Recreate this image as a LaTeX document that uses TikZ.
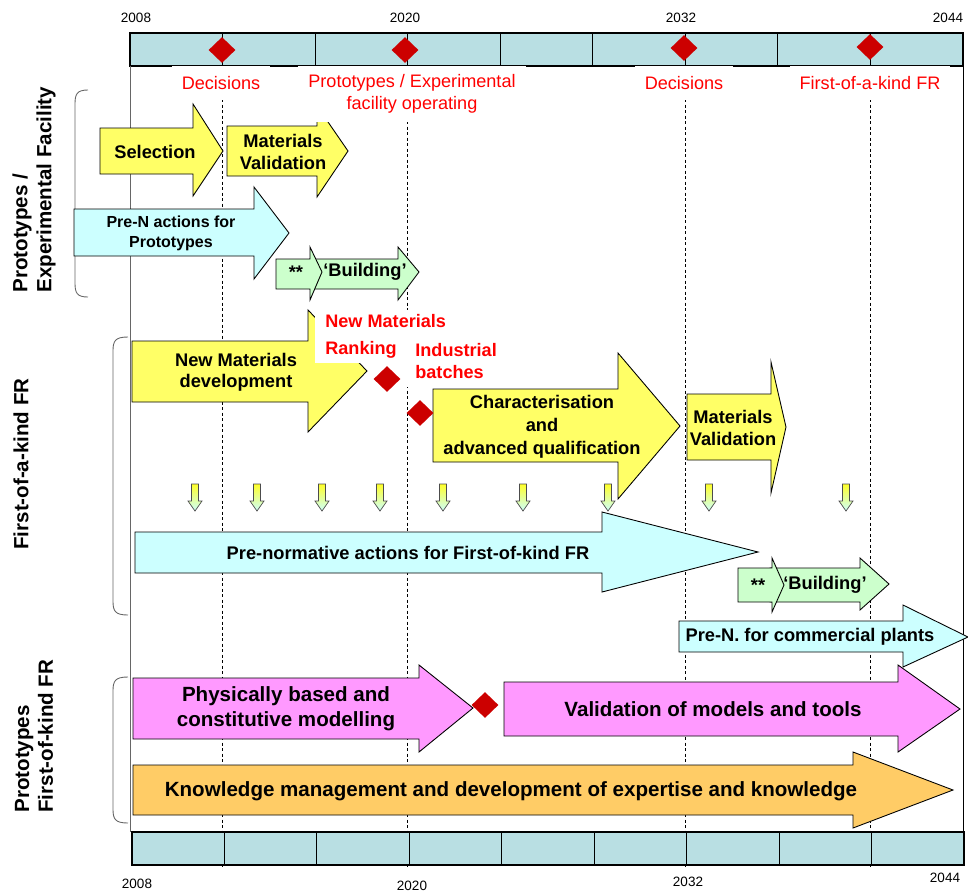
\documentclass[tikz,border=0pt]{standalone}
\usepackage{fontspec}
\setmainfont{Liberation Sans}
\usetikzlibrary{shapes.geometric}

\definecolor{barTeal}{RGB}{185,223,227}
\definecolor{arrYellow}{RGB}{255,255,102}
\definecolor{arrYellowHi}{RGB}{255,255,40}
\definecolor{arrCyan}{RGB}{204,255,255}
\definecolor{arrGreen}{RGB}{204,255,204}
\definecolor{arrPink}{RGB}{255,153,255}
\definecolor{arrOrange}{RGB}{255,204,102}
\definecolor{decRed}{RGB}{204,0,0}
\definecolor{txtRed}{RGB}{255,0,0}

\begin{document}
\begin{tikzpicture}[x=0.2mm,y=-0.2mm]
  \useasboundingbox (0,0) rectangle (968,891);
  \tikzstyle{every node}=[inner sep=0]
  \tikzstyle{blk}=[draw=black,line width=0.5pt]
  \tikzstyle{yel}=[blk,fill=arrYellow]
  \tikzstyle{cya}=[blk,fill=arrCyan]
  \tikzstyle{grn}=[blk,fill=arrGreen]
  \tikzstyle{pnk}=[blk,fill=arrPink]
  \tikzstyle{org}=[blk,fill=arrOrange]
  \tikzstyle{dec}=[diamond,fill=decRed,minimum width=5.4mm,minimum height=5.2mm]
  \tikzstyle{yr}=[font=\fontsize{7.7}{9}\selectfont]
  \tikzstyle{txt}=[font=\bfseries\fontsize{10.4}{13}\selectfont,align=center]
  \tikzstyle{txtsm}=[font=\bfseries\fontsize{9.1}{11.3}\selectfont,align=center]
  \tikzstyle{txtbig}=[font=\bfseries\fontsize{11.7}{14.2}\selectfont,align=center]
  \tikzstyle{milestone}=[font=\fontsize{10.3}{12.5}\selectfont,text=txtRed,fill=white,align=center,inner xsep=2mm]
  \tikzstyle{milebold}=[font=\bfseries\fontsize{10.3}{15.3}\selectfont,text=txtRed,fill=white,align=left,inner xsep=2mm,anchor=west]
  \tikzstyle{side}=[font=\bfseries\fontsize{11.7}{13.6}\selectfont,rotate=90,align=left,anchor=west]
  \tikzstyle{smallarr}=[draw=black!70,line width=0.4pt,top color=arrYellowHi,bottom color=arrCyan]

%% block arrow: style, x left, x head, x tip, body top, body bottom, head top, head bottom, tip y
  \newcommand{\blkarrow}[9]{%
    \draw[#1] (#2,#5) -- (#3,#5) -- (#3,#7) -- (#4,#9) -- (#3,#8) -- (#3,#6) -- (#2,#6) -- cycle;}
%% group brace: x left, x right, y top, y bottom
  \newcommand{\grpbrace}[4]{%
    \draw[black!60,line width=0.5pt] (#2,#3) .. controls (#1+2,#3) and (#1,#3+4) .. (#1,#3+14)
      -- (#1,#4-14) .. controls (#1,#4-4) and (#1+2,#4) .. (#2,#4);}

%% time bars
  \draw[line width=0.6pt,fill=barTeal] (130,33) rectangle (963,66);
  \foreach \k in {1,...,8}
    \draw[line width=0.6pt] (130+92.56*\k,33) -- (130+92.56*\k,66);
  \foreach \k in {1,3,6,8}
    \draw[line width=0.4pt,dash pattern=on 0.6mm off 0.5mm] (130+92.56*\k,66) -- (130+92.56*\k,868);
  \draw[black!60,line width=0.5pt] (130,66) -- (130,832);
  \draw[line width=0.5pt] (963,66) -- (963,832);
  \draw[line width=0.6pt,fill=barTeal] (132,832) rectangle (964,865);
  \foreach \k in {1,...,8}
    \draw[line width=0.6pt] (132+92.44*\k,832) -- (132+92.44*\k,865);

  \foreach \x/\yr in {136/2008,405/2020,681/2032,948/2044}
    \node[yr] (top-\yr) at (\x,18) {\yr};
  \foreach \x/\y/\yr in {137/884/2008,412/886/2020,688/882/2032,945/878/2044}
    \node[yr] (bot-\yr) at (\x,\y) {\yr};
  \foreach \x/\y in {222/50,405/50,684/48,870/47}
    \node[dec] (mile-\x) at (\x,\y) {};

%% group braces
  \grpbrace{75}{88}{90}{297}
  \grpbrace{113}{128}{337}{615}
  \grpbrace{113}{128}{677}{823}

%% prototypes / experimental facility
  \blkarrow{yel}{100}{193}{223}{128}{174}{104}{196}{151}
  \blkarrow{yel}{227}{317}{348}{126}{176}{106}{197}{151}
  \blkarrow{cya}{74}{254}{289}{209}{256}{187}{279}{233}
  \blkarrow{grn}{310}{398}{419}{259}{289}{247}{300}{272}
  \blkarrow{grn}{276}{310}{322}{259}{289}{247}{300}{272}

%% first-of-a-kind
  \blkarrow{yel}{132}{308}{367}{341}{402}{310}{432}{371}
  \blkarrow{yel}{433}{618}{680}{389}{462}{353}{499}{426}
  \blkarrow{yel}{687}{771}{786}{394}{460}{362}{493}{427}
  \foreach \x in {195,257,322,380,443,523,608,709,846}
    \draw[smallarr] (\x-3.5,484) -- (\x+3.5,484) -- (\x+3.5,501) -- (\x+7,501)
      -- (\x,511) -- (\x-7,501) -- (\x-3.5,501) -- cycle;
  \blkarrow{cya}{135}{602}{758}{532}{573}{512}{592}{552}
  \blkarrow{grn}{770}{860}{889}{568}{602}{558}{610}{584}
  \blkarrow{grn}{738}{772}{784}{568}{602}{558}{612}{585}
  \blkarrow{cya}{679}{903}{968}{621}{652}{605}{667}{637}

%% modelling and knowledge
  \blkarrow{pnk}{133}{419}{473}{678}{739}{665}{752}{708}
  \blkarrow{pnk}{504}{898}{960}{682}{736}{665}{752}{709}
  \blkarrow{org}{133}{853}{953}{765}{815}{752}{828}{790}

%% milestones
  \node[milestone,minimum height=6.8mm] (dec-a) at (221,83) {Decisions};
  \node[milestone,minimum height=11.2mm] (proto-op) at (412,94) {Prototypes / Experimental\\facility operating};
  \node[milestone,minimum height=6.8mm] (dec-b) at (684,83) {Decisions};
  \node[milestone,minimum height=6.8mm] (fok) at (870,83) {First-of-a-kind FR};
  \node[milebold,minimum height=10.6mm] (rank) at (315,336.5) {New Materials\\Ranking};
  \node[milebold,minimum height=10.4mm,font=\bfseries\fontsize{10.3}{12.5}\selectfont] (batch) at (405,361) {Industrial\\batches};
  \node[dec] (mile-rank) at (387,379) {};
  \node[dec] (mile-batch) at (420,413) {};
  \node[dec] (mile-model) at (485,705) {};

%% texts
  \node[txt] (sel) at (155,152) {Selection};
  \node[txt] (matval-a) at (283,152) {Materials\\Validation};
  \node[txtsm] (pren-proto) at (171,233) {Pre-N actions for\\Prototypes};
  \node[txt] (star-a) at (296,272) {**};
  \node[txt] (build-a) at (365,272) {‘Building’};
  \node[txt,font=\bfseries\fontsize{10.4}{12}\selectfont] (newmat) at (236,372) {New Materials\\development};
  \node[txt] (charac) at (542,427) {Characterisation\\and\\advanced qualification};
  \node[txt,font=\bfseries\fontsize{10.4}{12.5}\selectfont] (matval-b) at (733,428) {Materials\\Validation};
  \node[txt] (prenorm) at (408,553) {Pre-normative actions for First-of-kind FR};
  \node[txt] (star-b) at (758,585) {**};
  \node[txt] (build-b) at (825,585) {‘Building’};
  \node[txt] (pren-comm) at (810,637) {Pre-N. for commercial plants};
  \node[txtbig] (physmod) at (286,709) {Physically based and\\constitutive modelling};
  \node[txtbig] (valmod) at (713,709) {Validation of models and tools};
  \node[txtbig] (know) at (511,791) {Knowledge management and development of expertise and knowledge};

%% side labels
  \node[side] (side-proto) at (34,293) {Prototypes /\\Experimental Facility};
  \node[side] (side-fok) at (21,550) {First-of-a-kind FR};
  \node[side] (side-proto-fok) at (34,813) {Prototypes\\First-of-kind FR};
\end{tikzpicture}
\end{document}
